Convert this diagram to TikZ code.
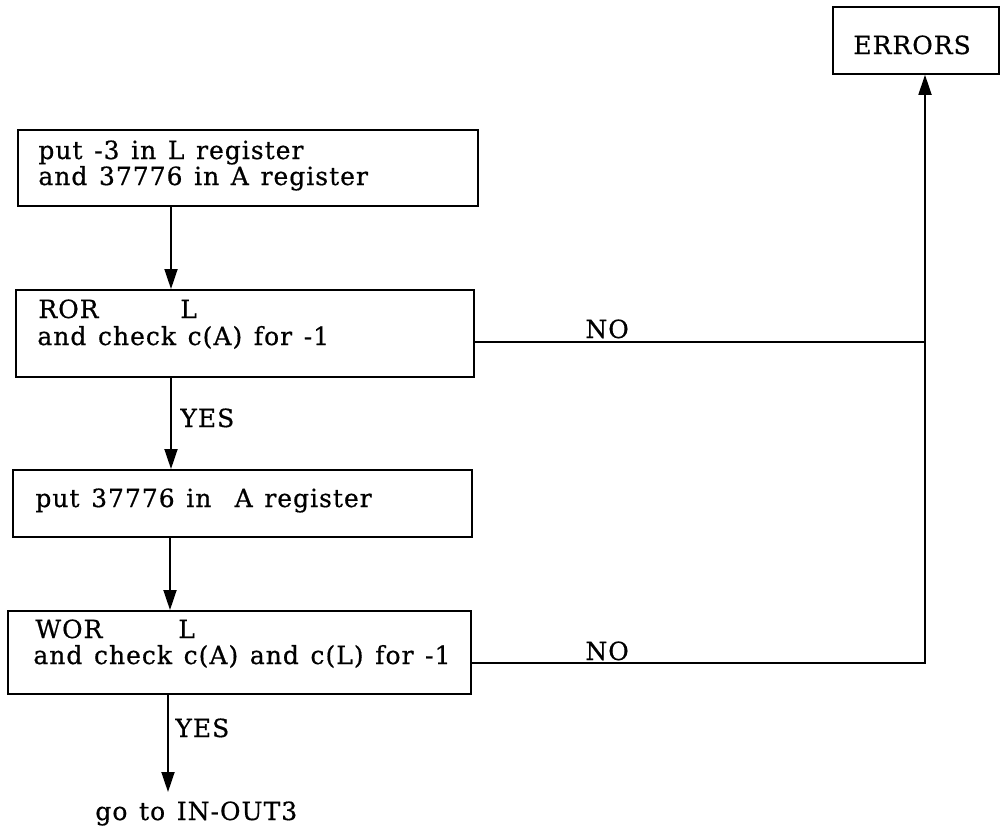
\documentclass[tikz,border=0pt]{standalone}
\usepackage{fontspec}
\setmainfont{DejaVu Serif}[LetterSpace=4, WordSpace=1.3, FakeBold=0.6]
\usetikzlibrary{arrows.meta}
\begin{document}
\begin{tikzpicture}[x=0.5pt,y=-0.5pt,
  box/.style={draw, line width=0.9pt, inner sep=0pt, anchor=north west},
  txt/.style={anchor=base west, inner sep=0pt, font=\fontsize{12.5}{14}\selectfont},
  arr/.style={line width=0.9pt, -{Triangle[length=10pt,width=6.5pt]}},
  ln/.style={line width=0.9pt}]
\useasboundingbox (0,0) rectangle (1000,826);
% boxes
\node[box, minimum width=83pt, minimum height=33.5pt] (errors) at (832,6) {};
\node[box, minimum width=230pt, minimum height=38pt] (box1) at (17,129) {};
\node[box, minimum width=229pt, minimum height=43.5pt] (box2) at (15,289) {};
\node[box, minimum width=229.5pt, minimum height=33.5pt] (box3) at (12,469) {};
\node[box, minimum width=231.5pt, minimum height=41.5pt] (box4) at (7,610) {};
% texts
\node[txt] (terr) at (853,54) {ERRORS};
\node[txt] (t1a) at (38,159) {put -3 in L register};
\node[txt] (t1b) at (38,185) {and 37776 in A register};
\node[txt] (t2a) at (38,318) {ROR};
\node[txt] (t2L) at (180,318) {L};
\node[txt] (t2b) at (37,345) {and check c(A) for -1};
\node[txt] (yes1) at (180,427) {YES};
\node[txt] (t3) at (35,507) {put 37776 in\ \ A register};
\node[txt] (t4a) at (35,638) {WOR};
\node[txt] (t4L) at (178,638) {L};
\node[txt] (t4b) at (33,664) {and check c(A) and c(L) for -1};
\node[txt] (yes2) at (175,737) {YES};
\node[txt] (goto) at (95,820) {go to IN-OUT3};
\node[txt] (no1) at (585,338) {NO};
\node[txt] (no2) at (585,660) {NO};
% helper coordinates
\coordinate (c1) at (171,0);
\coordinate (c2) at (171,0);
\coordinate (c3) at (170,0);
\coordinate (c4) at (168,0);
\coordinate (j2) at (925,342);
\coordinate (j4) at (925,663);
\coordinate (endpt) at (168,792);
% connectors
\draw[arr] (box1.south -| c1) -- (box2.north -| c1);
\draw[arr] (box2.south -| c2) -- (box3.north -| c2);
\draw[arr] (box3.south -| c3) -- (box4.north -| c3);
\draw[arr] (box4.south -| c4) -- (endpt);
\draw[ln] (box2.east |- j2) -- (j2);
\draw[arr] (box4.east |- j4) -- (j4) -- (j4 |- errors.south);
\end{tikzpicture}
\end{document}
